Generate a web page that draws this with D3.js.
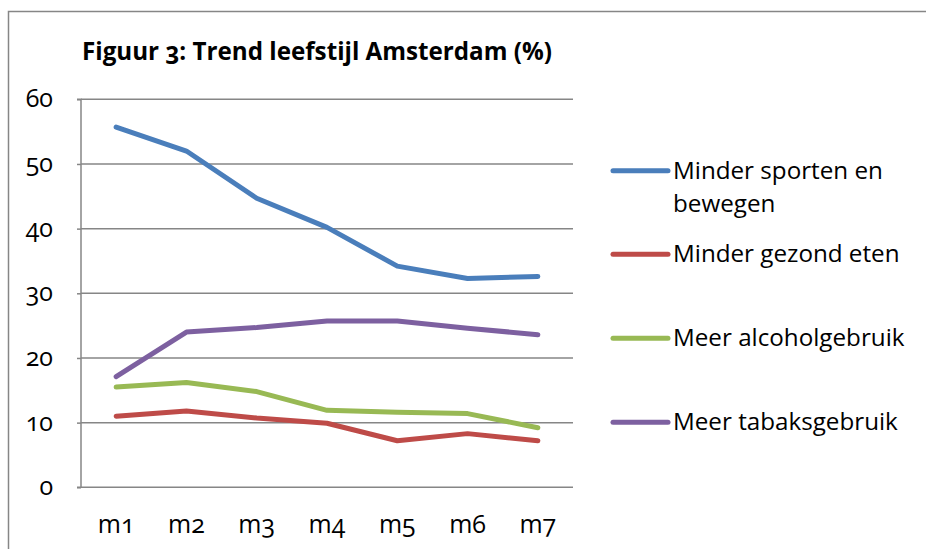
<!DOCTYPE html>
<html><head><meta charset="utf-8">
<script src="https://cdn.jsdelivr.net/npm/d3@7/dist/d3.min.js"></script>
<style>
html,body{margin:0;padding:0;background:#fff;}
svg{display:block;}
text{font-family:"Open Sans","Noto Sans",sans-serif;fill:#000;}
</style></head>
<body>
<svg id="chart" width="926" height="549"></svg>
<script>
const categories = ["m1","m2","m3","m4","m5","m6","m7"];
const sporten   = [55.7, 52.0, 44.7, 40.2, 34.2, 32.3, 32.6];
const gezond    = [11.0, 11.8, 10.7, 9.9, 7.2, 8.3, 7.2];
const alcohol   = [15.5, 16.2, 14.8, 11.9, 11.6, 11.4, 9.2];
const tabak     = [17.1, 24.0, 24.7, 25.7, 25.7, 24.6, 23.6];
const seriesNames = [["Minder sporten en","bewegen"],["Minder gezond eten"],["Meer alcoholgebruik"],["Meer tabaksgebruik"]];
const seriesValues = [sporten, gezond, alcohol, tabak];
const colors = ["#4a7ebb","#be4b48","#98b954","#7d60a0"];
const yTicks = [0,10,20,30,40,50,60];
const title = "Figuur 3: Trend leefstijl Amsterdam (%)";

const svg = d3.select("#chart");
const plot = {left:81, right:573, top:99.3, bottom:487.3};

// outer frame
svg.append("path").attr("d","M8.5,549 V11.5 H926")
  .attr("fill","none").attr("stroke","#868686").attr("stroke-width",1.5);

const x = d3.scaleBand().domain(categories).range([plot.left, plot.right]);
const y = d3.scaleLinear().domain([0,60]).range([plot.bottom, plot.top]);

// gridlines
svg.append("g").selectAll("line").data(yTicks.filter(d=>d>0)).join("line")
  .attr("x1",plot.left).attr("x2",plot.right)
  .attr("y1",d=>y(d)).attr("y2",d=>y(d))
  .attr("stroke","#868686").attr("stroke-width",1.5);

// y axis
const yAxis = svg.append("g").attr("transform",`translate(${plot.left},0)`)
  .call(d3.axisLeft(y).tickValues(yTicks).tickSize(4).tickPadding(24).tickFormat(d3.format("d")));
yAxis.select(".domain").attr("stroke","#868686").attr("stroke-width",1.5).attr("d",`M-4,${plot.top}H0V${plot.bottom}H-4`);
yAxis.selectAll(".tick line").attr("stroke","#868686").attr("stroke-width",1.5);
yAxis.selectAll(".tick text").attr("font-size",25).attr("fill","#000")
  .style("font-variant-numeric","oldstyle-nums").attr("dy","0.3em");

// x axis baseline
const xAxis = svg.append("g").attr("transform",`translate(0,${plot.bottom})`)
  .call(d3.axisBottom(x).tickSize(0).tickPadding(28));
xAxis.select(".domain").attr("stroke","#868686").attr("stroke-width",1.5).attr("d",`M${plot.left},0H${plot.right}`);
xAxis.selectAll(".tick text").attr("font-size",25).attr("fill","#000")
  .style("font-variant-numeric","oldstyle-nums");

// lines
const line = d3.line().x((d,i)=>x(categories[i])+x.bandwidth()/2).y(d=>y(d));
svg.append("g").selectAll("path").data(seriesValues).join("path")
  .attr("d",d=>line(d)).attr("fill","none")
  .attr("stroke",(d,i)=>colors[i]).attr("stroke-width",5)
  .attr("stroke-linecap","round").attr("stroke-linejoin","round");

// title
const t = svg.append("text").attr("x",82).attr("y",60).attr("font-weight","bold")
  .attr("font-size",21).style("font-variant-numeric","oldstyle-nums").text(title);
const tw = t.node().getComputedTextLength();
t.attr("font-size",21*470/tw);

// legend
const legY = [170.7, 254.3, 338.3, 422.3];
const leg = svg.append("g");
seriesNames.forEach((names,i)=>{
  leg.append("line").attr("x1",613).attr("x2",668).attr("y1",legY[i]).attr("y2",legY[i])
    .attr("stroke",colors[i]).attr("stroke-width",5).attr("stroke-linecap","round");
  const tx = leg.append("text").attr("x",673).attr("y",legY[i]+8).attr("font-size",21);
  names.forEach((n,j)=>{
    tx.append("tspan").attr("x",673).attr("dy",j===0?0:33.5).text(n);
  });
});
// fit legend font size to reference width of "Minder sporten en" (~210px)
const first = leg.select("text tspan").node();
const w0 = first.getComputedTextLength();
leg.selectAll("text").attr("font-size",21*210/w0);
</script>
</body></html>
